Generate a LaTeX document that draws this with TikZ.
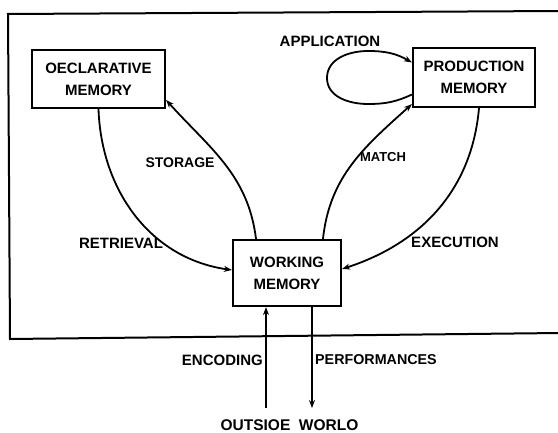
\documentclass[tikz,border=0pt]{standalone}
\usepackage{fontspec}
\setmainfont{Liberation Sans}
\usetikzlibrary{arrows.meta}
\begin{document}
\begin{tikzpicture}[x=1pt,y=-1pt,
  lab/.style={font=\fontsize{15}{22}\selectfont\bfseries, inner sep=0pt},
  mem/.style={draw, line width=2.2pt, align=center, inner sep=0pt,
    font=\fontsize{15}{22}\selectfont\bfseries},
  conn/.style={line width=1.8pt, -{Stealth[length=8pt,width=6pt]}},
  frame/.style={line width=2pt}]
\useasboundingbox (0,0) rectangle (558,433);
% outer frame (right side lies outside the picture)
\draw[frame] (560,11) -- (8,14) -- (10,339) -- (560,333);
% boxes
\node[mem, minimum width=133pt, minimum height=58pt] (decl) at (98.5,79) {OECLARATIVE\\MEMORY};
\node[mem, minimum width=122pt, minimum height=59pt] (prod) at (474,77.5) {PRODUCTION\\MEMORY};
\node[mem, minimum width=108pt, minimum height=66pt] (wm) at (287,273) {WORKING\\MEMORY};
% outside world
\node[lab, font=\fontsize{15.5}{22}\selectfont\bfseries] (ow) at (289.5,425) {OUTSIOE\ \ WORLO};
\coordinate (encs) at (266,408);
\coordinate (perfe) at (312,408);
% connectors
\draw[conn] (decl.south) to[out=-88,in=172] ([yshift=3pt]wm.west);
\draw[conn] ([xshift=-31pt]wm.north) to[out=97,in=-48] ([yshift=-21pt]decl.east);
\draw[conn] ([xshift=36pt]wm.north) to[out=84,in=-138] ([yshift=4pt]prod.south west);
\draw[conn] ([xshift=5pt]prod.south) to[out=-95,in=18] ([yshift=4pt]wm.east);
\draw[conn] ([yshift=-17pt]prod.west) to[out=205,in=0] (368,104) to[out=180,in=-90] (327,78) to[out=90,in=180] (368,51) to[out=0,in=150] ([yshift=15pt]prod.west);
\draw[conn] (encs) -- ([xshift=-21pt]wm.south);
\draw[conn] ([xshift=25pt]wm.south) -- (perfe);
% labels
\node[lab] (lret) at (121,243) {RETRIEVAL};
\node[lab, font=\fontsize{14}{22}\selectfont\bfseries] (lsto) at (180,163) {STORAGE};
\node[lab, font=\fontsize{13}{22}\selectfont\bfseries] (lmat) at (383,157) {MATCH};
\node[lab] (lexe) at (455,242) {EXECUTION};
\node[lab] (lapp) at (330,41) {APPLICATION};
\node[lab, anchor=east] (lenc) at (263,360) {ENCODING};
\node[lab, anchor=west, font=\fontsize{14.3}{22}\selectfont\bfseries] (lper) at (315,360) {PERFORMANCES};
\end{tikzpicture}
\end{document}
